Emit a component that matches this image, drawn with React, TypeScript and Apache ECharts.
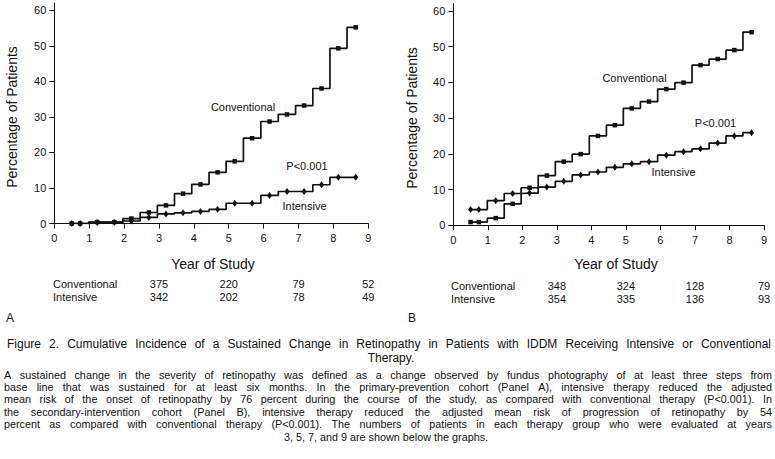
import React, { useEffect, useRef } from "react";
import * as echarts from "echarts";

// ---------- data ----------
const visitYears = [0.5, 0.74, 1.23, 1.72, 2.21, 2.71, 3.2, 3.69, 4.19, 4.68, 5.17, 5.67, 6.17, 6.67, 7.16, 7.66, 8.14, 8.64];
const conventionalA = [0, 0, 0.4, 0.4, 1.4, 3.1, 5.1, 8.4, 11.0, 14.4, 17.5, 24.0, 28.7, 30.7, 33.2, 38.0, 49.3, 55.2];
const intensiveA = [0, 0, 0.3, 0.3, 0.7, 1.7, 2.7, 3.0, 3.4, 4.0, 5.7, 5.7, 7.9, 9.0, 9.0, 10.9, 13.0, 13.0];
const conventionalB = [0.9, 0.9, 2.0, 6.0, 10.5, 13.9, 17.8, 19.9, 25.0, 28.0, 32.7, 34.6, 38.1, 39.9, 44.8, 46.5, 49.0, 54.0];
const intensiveB = [4.4, 4.4, 6.9, 8.9, 9.0, 10.7, 12.3, 14.1, 14.9, 16.2, 17.2, 17.8, 19.6, 20.6, 21.4, 23.0, 25.0, 25.9];

const yTickValues = [0, 10, 20, 30, 40, 50, 60];
const tableYears = [3, 5, 7, 9];
const tableConventionalA = [375, 220, 79, 52];
const tableIntensiveA = [342, 202, 78, 49];
const tableConventionalB = [348, 324, 128, 79];
const tableIntensiveB = [354, 335, 136, 93];

const rowLabels = ["Conventional", "Intensive"];
const curveLabels = ["Conventional", "P<0.001", "Intensive"];
const yAxisTitle = "Percentage of Patients";
const xAxisTitle = "Year of Study";
const panelLetters = ["A", "B"];

const captionTitle =
  "Figure 2. Cumulative Incidence of a Sustained Change in Retinopathy in Patients with IDDM Receiving Intensive or Conventional";
const captionTitleEnd = "Therapy.";
const captionBody = [
  "A sustained change in the severity of retinopathy was defined as a change observed by fundus photography of at least three steps from",
  "base line that was sustained for at least six months. In the primary-prevention cohort (Panel A), intensive therapy reduced the adjusted",
  "mean risk of the onset of retinopathy by 76 percent during the course of the study, as compared with conventional therapy (P<0.001). In",
  "the secondary-intervention cohort (Panel B), intensive therapy reduced the adjusted mean risk of progression of retinopathy by 54",
  "percent as compared with conventional therapy (P<0.001). The numbers of patients in each therapy group who were evaluated at years",
];
const captionBodyEnd = "3, 5, 7, and 9 are shown below the graphs.";

// ---------- styling / layout ----------
const FONT = "Arial, Liberation Sans, Helvetica, sans-serif";
const INK = "#111";

const panels = [
  { left: 54.3, top: 3.2, width: 314, height: 220.3, yTitleX: 11.5, yTitleY: 117, xTitleX: 213, rowX: 53, rowY: [284.3, 296.8],
    labels: [[243, 107], [307, 166], [304.5, 206]] },
  { left: 453.3, top: 3.6, width: 310.7, height: 221.7, yTitleX: 411.7, yTitleY: 118, xTitleX: 616, rowX: 451, rowY: [285.5, 298.6],
    labels: [[634.5, 77.7], [715.5, 122.7], [673.5, 172]] },
];

const BODY_SIZE = 10.8;
const BODY_TOP = 374.6;
const BODY_STEP = 12.4;

function txt(text: string, x: number, y: number, fontSize: number, align = "left", extra: any = {}) {
  return {
    type: "text",
    x,
    y,
    silent: true,
    ...extra,
    style: { text, fontSize, fontFamily: FONT, fill: INK, align, verticalAlign: "middle", lineHeight: fontSize },
  };
}

function justified(line: string, x0: number, x1: number, y: number, size: number) {
  const words = line.split(" ");
  const canvas = document.createElement("canvas");
  const ctx = canvas.getContext("2d") as CanvasRenderingContext2D;
  let fs = size;
  let widths: number[] = [];
  let total = 0;
  for (let k = 0; k < 40; k++) {
    ctx.font = `${fs}px ${FONT}`;
    widths = words.map((w) => ctx.measureText(w).width);
    total = widths.reduce((a, b) => a + b, 0);
    const minGap = ctx.measureText(" ").width * 0.85;
    if (total + minGap * (words.length - 1) <= x1 - x0) break;
    fs -= 0.2;
  }
  const gap = (x1 - x0 - total) / Math.max(1, words.length - 1);
  let x = x0;
  return words.map((w, i) => {
    const el = txt(w, x, y, fs);
    x += widths[i] + gap;
    return el;
  });
}

export default function App() {
  const ref = useRef<HTMLDivElement>(null);

  useEffect(() => {
    if (!ref.current) return;
    const chart = echarts.init(ref.current, undefined, { renderer: "svg" });

    const seriesSets = [
      [conventionalA, intensiveA],
      [conventionalB, intensiveB],
    ];
    const tables = [
      [tableConventionalA, tableIntensiveA],
      [tableConventionalB, tableIntensiveB],
    ];

    const axisLineStyle = { color: INK, width: 1 };

    const xAxis = panels.map((p, i) => ({
      gridIndex: i,
      type: "value",
      min: 0,
      max: 9,
      interval: 1,
      axisLine: { show: true, onZero: false, lineStyle: axisLineStyle },
      axisTick: { show: true, length: 5, inside: false, lineStyle: axisLineStyle },
      axisLabel: { margin: 9, fontSize: 11, color: INK, fontFamily: FONT },
      splitLine: { show: false },
    }));

    const yAxis = panels.map((p, i) => ({
      gridIndex: i,
      type: "value",
      min: 0,
      max: 62,
      axisLine: { show: true, onZero: false, lineStyle: axisLineStyle },
      axisTick: { show: true, length: 5, inside: false, lineStyle: axisLineStyle, customValues: yTickValues },
      axisLabel: { margin: 8, fontSize: 11, color: INK, fontFamily: FONT, customValues: yTickValues },
      splitLine: { show: false },
    }));

    const series: any[] = [];
    seriesSets.forEach((pair, i) => {
      series.push({
        type: "line",
        xAxisIndex: i,
        yAxisIndex: i,
        step: "middle",
        data: visitYears.map((x, k) => [x, pair[0][k]]),
        symbol: "rect",
        symbolSize: 4.5,
        lineStyle: { color: INK, width: 1.7 },
        itemStyle: { color: INK },
        z: 3,
      });
      series.push({
        type: "line",
        xAxisIndex: i,
        yAxisIndex: i,
        step: "middle",
        data: visitYears.map((x, k) => [x, pair[1][k]]),
        symbol: "diamond",
        symbolSize: [5, 7],
        lineStyle: { color: INK, width: 1.7 },
        itemStyle: { color: INK },
        z: 3,
      });
    });

    const graphic: any[] = [];
    panels.forEach((p, i) => {
      graphic.push(txt(yAxisTitle, p.yTitleX, p.yTitleY, 14, "center", { rotation: Math.PI / 2 }));
      graphic.push(txt(xAxisTitle, p.xTitleX, 264, 14, "center"));
      curveLabels.forEach((l, k) => graphic.push(txt(l, p.labels[k][0], p.labels[k][1], 11, "center")));
      rowLabels.forEach((r, row) => {
        graphic.push(txt(r, p.rowX, p.rowY[row], 11, "left"));
        tableYears.forEach((yr, c) => {
          const x = p.left + (yr / 9) * p.width;
          graphic.push(txt(String(tables[i][row][c]), x, p.rowY[row], 11, "center"));
        });
      });
    });
    graphic.push(txt(panelLetters[0], 6, 318, 12, "left"));
    graphic.push(txt(panelLetters[1], 408, 318, 12, "left"));

    justified(captionTitle, 7, 771, 344, 12).forEach((e) => graphic.push(e));
    graphic.push(txt(captionTitleEnd, 391, 358, 12, "center"));
    captionBody.forEach((line, k) => {
      justified(line, 4, 772, BODY_TOP + k * BODY_STEP, BODY_SIZE).forEach((e) => graphic.push(e));
    });
    graphic.push(txt(captionBodyEnd, 386, BODY_TOP + captionBody.length * BODY_STEP, BODY_SIZE, "center"));

    chart.setOption({
      animation: false,
      backgroundColor: "#fff",
      grid: panels.map((p) => ({ left: p.left, top: p.top, width: p.width, height: p.height, containLabel: false })),
      xAxis,
      yAxis,
      series,
      graphic,
    });

    return () => chart.dispose();
  }, []);

  return <div ref={ref} style={{ position: "absolute", left: 0, top: 0, width: 775, height: 459 }} />;
}
